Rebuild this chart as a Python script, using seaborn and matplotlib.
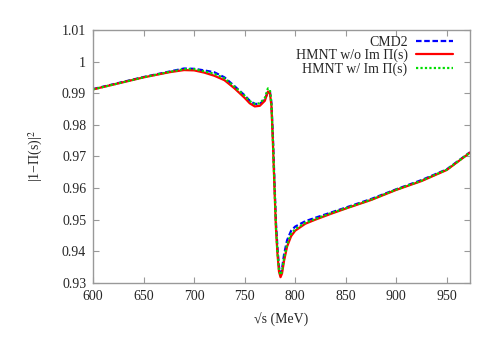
"""
|1 - Pi(s)|^2 vs sqrt(s) near the rho-omega region
"""
import numpy as np
import pandas as pd
import matplotlib
matplotlib.use("Agg")
import matplotlib.pyplot as plt
import seaborn as sns

# sqrt(s) grid in MeV, shared by the three curves
sqrt_s = [600, 625, 650, 675, 690, 700, 710, 720, 730, 740, 750, 755, 760,
          765, 770, 773, 775, 776.5, 778, 779.5, 781, 782.5, 784, 785.5, 787,
          789, 792, 796, 800, 810, 820, 835, 850, 875, 900, 925, 950, 973]

cmd2 = [0.9913, 0.9932, 0.9951, 0.9968, 0.9978, 0.9977, 0.9972, 0.9966,
        0.9950, 0.9922, 0.9893, 0.9876, 0.9866, 0.9866, 0.9880, 0.9905,
        0.9905, 0.9870, 0.9760, 0.9620, 0.9490, 0.9410, 0.9350, 0.9330,
        0.9345, 0.9390, 0.9435, 0.9465, 0.9478, 0.9495, 0.9506, 0.9522,
        0.9538, 0.9565, 0.9596, 0.9625, 0.9659, 0.9713]

hmnt_no_im = [0.9912, 0.9931, 0.9950, 0.9966, 0.9973, 0.9972, 0.9965, 0.9955,
              0.9941, 0.9915, 0.9885, 0.9868, 0.9858, 0.9860, 0.9876, 0.9905,
              0.9900, 0.9860, 0.9740, 0.9600, 0.9470, 0.9390, 0.9335, 0.9318,
              0.9330, 0.9370, 0.9415, 0.9448, 0.9465, 0.9487, 0.9500, 0.9518,
              0.9535, 0.9562, 0.9594, 0.9622, 0.9657, 0.9712]

hmnt_im = [0.9912, 0.9931, 0.9950, 0.9967, 0.9976, 0.9976, 0.9969, 0.9961,
           0.9947, 0.9920, 0.9892, 0.9875, 0.9866, 0.9868, 0.9885, 0.9915,
           0.9910, 0.9865, 0.9745, 0.9605, 0.9475, 0.9395, 0.9340, 0.9325,
           0.9337, 0.9378, 0.9422, 0.9455, 0.9470, 0.9490, 0.9502, 0.9520,
           0.9536, 0.9563, 0.9595, 0.9623, 0.9658, 0.9712]

labels = ["CMD2", "HMNT w/o Im \u03a0(s)", "HMNT w/ Im \u03a0(s)"]
colors = ["#0000ff", "#ff0000", "#00dd00"]
dashes = [(2.5, 1.2), "", (1, 1)]

xticks = [600, 650, 700, 750, 800, 850, 900, 950]
yticks = [0.93, 0.94, 0.95, 0.96, 0.97, 0.98, 0.99, 1.00, 1.01]
ytick_labels = ["0.93", "0.94", "0.95", "0.96", "0.97", "0.98", "0.99", "1", "1.01"]

df = pd.DataFrame({"sqrt_s": sqrt_s, labels[0]: cmd2,
                   labels[1]: hmnt_no_im, labels[2]: hmnt_im})
long_df = df.melt(id_vars="sqrt_s", var_name="curve", value_name="val")

sns.set_style("ticks")
plt.rcParams["font.family"] = ["Liberation Serif", "DejaVu Serif"]
plt.rcParams["mathtext.fontset"] = "stix"

fig = plt.figure(figsize=(4.85, 3.4), dpi=100)
ax = fig.add_axes([0.192, 0.168, 0.777, 0.744])

sns.lineplot(data=long_df, x="sqrt_s", y="val", hue="curve", style="curve",
             hue_order=labels, style_order=labels,
             palette=dict(zip(labels, colors)), dashes=dict(zip(labels, dashes)),
             linewidth=1.6, ax=ax, legend=False)

ax.set_xlim(600, 973)
ax.set_ylim(0.93, 1.01)
ax.set_xticks(xticks)
ax.set_yticks(yticks)
ax.set_yticklabels(ytick_labels)
ax.tick_params(direction="in", length=4, width=0.8, color="#999999",
               top=True, right=True, labelsize=10, pad=5)
for sp in ax.spines.values():
    sp.set_color("#999999")
    sp.set_linewidth(1.0)

ax.set_xlabel("\u221as (MeV)", fontsize=10, labelpad=7)
ax.set_ylabel("|1\u2212\u03a0(s)|$^2$", fontsize=10, labelpad=12)

handles = [plt.Line2D([], [], color=c, lw=1.6,
                      linestyle=(0, d) if d else "-")
           for c, d in zip(colors, dashes)]
ax.legend(handles, labels, loc="upper right", frameon=False, markerfirst=False,
          fontsize=10, handlelength=2.7, handletextpad=0.6, labelspacing=0.0,
          borderaxespad=0.2, bbox_to_anchor=(0.978, 1.01))

fig.savefig("out.png", dpi=100)
